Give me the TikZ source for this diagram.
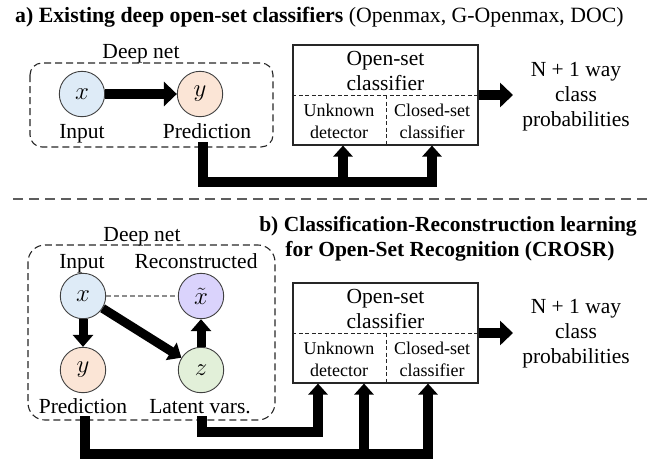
\documentclass[tikz,border=0pt]{standalone}
\usepackage{fontspec}
\setmainfont{Liberation Serif}
\usetikzlibrary{arrows.meta}
\definecolor{cin}{HTML}{DEEBF7}
\definecolor{cpred}{HTML}{FBE5D6}
\definecolor{crec}{HTML}{DAD3FC}
\definecolor{clat}{HTML}{E2F0D9}
\definecolor{cline}{HTML}{404040}
\begin{document}
\begin{tikzpicture}[x=1pt,y=-1pt,
  txt/.style={font=\fontsize{21.5}{25}\selectfont, inner sep=0pt, anchor=base},
  mtxt/.style={font=\fontsize{21.5}{25}\selectfont, inner sep=0pt, align=center},
  stxt/.style={font=\fontsize{18}{22}\selectfont, inner sep=0pt, align=center},
  var/.style={circle, draw=cline, line width=0.9pt, minimum size=45.4pt, inner sep=0pt, font=\fontsize{24}{24}\selectfont},
  net/.style={draw=black!85, dash pattern=on 7pt off 4pt, line width=1.1pt},
  osbox/.style={draw=black!85, line width=1.1pt, minimum width=185pt, minimum height=100pt, inner sep=0pt},
  inner dash/.style={draw=black!85, line width=0.9pt, dash pattern=on 4pt off 2.5pt},
  bar/.style={line width=10pt, line join=miter},
  bigtip/.style={line width=10pt, -{Triangle[width=24pt,length=13pt]}},
  midtip/.style={line width=9pt, -{Triangle[width=20pt,length=12pt]}},
  smalltip/.style={line width=10pt, line join=miter, -{Triangle[width=19pt,length=11pt]}},
  sep/.style={draw=cline!85, line width=1.8pt, dash pattern=on 10pt off 6pt},
  tie/.style={draw=black!45, line width=1.1pt, dash pattern=on 5pt off 3pt}
]
\useasboundingbox (0,0) rectangle (648,459);

% ---------- part a ----------
\node[txt, anchor=base west, font=\fontsize{21.8}{25}\selectfont] (titleA) at (15,22) {\textbf{a) Existing deep open-set classifiers} (Openmax, G-Openmax, DOC)};

\draw[net, rounded corners=12pt] (30,63) rectangle (273,147);
\node[txt] (deepA) at (141,58) {Deep net};
\node[var, fill=cin] (xa) at (82,94) {$x$};
\node[var, fill=cpred] (ya) at (200,94) {$y$};
\node[txt] (inA) at (82,138) {Input};
\node[txt] (predA) at (207,138) {Prediction};
\draw[bigtip] (xa) -- (ya);

\node[osbox] (osA) at (385.5,95) {};
\draw[inner dash] (osA.west |- 0,95) -- (osA.east |- 0,95);
\draw[inner dash] (386,95) -- (386,95 |- osA.south);
\node[mtxt] (osAt) at (385.5,71) {Open-set\\classifier};
\node[stxt] (unkA) at (339,121) {Unknown\\detector};
\node[stxt] (clsA) at (432,121) {Closed-set\\classifier};

\coordinate (outA) at (513,95);
\draw[bigtip] (osA.east |- 0,95) -- (outA);
\node[mtxt] (probA) at (576,97) {N + 1 way\\class\\probabilities};

\coordinate (sa) at (203,142);
\coordinate (ja1) at (343,182);
\coordinate (ja2) at (432,182);
\draw[smalltip] (sa) |- (ja2) -- (ja2 |- osA.south);
\draw[smalltip] (ja1) -- (ja1 |- osA.south);

% ---------- separator ----------
\coordinate (sepL) at (13,199);
\coordinate (sepR) at (648,199);
\draw[sep] (sepL) -- (sepR);

% ---------- part b ----------
\node[txt, font=\fontsize{21.5}{25}\selectfont\bfseries] (titleB1) at (448,231) {b) Classification-Reconstruction learning};
\node[txt, font=\fontsize{21.5}{25}\selectfont\bfseries] (titleB2) at (450,256) {for Open-Set Recognition (CROSR)};

\draw[net, rounded corners=17pt] (28,245) rectangle (275,420);
\node[txt] (deepB) at (142,241) {Deep net};
\node[txt] (inB) at (82,268) {Input};
\node[txt] (recB) at (196,268) {Reconstructed};
\node[var, fill=cin] (xb) at (83,296) {$x$};
\node[var, fill=crec] (xtb) at (201,296) {$\tilde{x}$};
\node[var, fill=cpred] (yb) at (83,370) {$y$};
\node[var, fill=clat] (zb) at (201,370) {$z$};
\node[txt] (predB) at (83,413) {Prediction};
\node[txt] (latB) at (200,413) {Latent vars.};
\draw[tie] (xb) -- (xtb);
\draw[midtip] (xb) -- (yb);
\draw[midtip] (xb) -- (zb);
\draw[midtip] (zb) -- (xtb);

\node[osbox] (osB) at (385.5,333) {};
\draw[inner dash] (osB.west |- 0,333) -- (osB.east |- 0,333);
\draw[inner dash] (386,333) -- (386,333 |- osB.south);
\node[mtxt] (osBt) at (385.5,309) {Open-set\\classifier};
\node[stxt] (unkB) at (339,359) {Unknown\\detector};
\node[stxt] (clsB) at (432,359) {Closed-set\\classifier};

\coordinate (outB) at (513,333);
\draw[bigtip] (osB.east |- 0,333) -- (outB);
\node[mtxt] (probB) at (576,334) {N + 1 way\\class\\probabilities};

\coordinate (sb1) at (202,416);
\coordinate (jb1) at (318,432);
\draw[smalltip] (sb1) |- (jb1) -- (jb1 |- osB.south);

\coordinate (sb2) at (85,416);
\coordinate (jb2) at (364,454);
\coordinate (jb3) at (428,454);
\draw[smalltip] (sb2) |- (jb3) -- (jb3 |- osB.south);
\draw[smalltip] (jb2) -- (jb2 |- osB.south);
\end{tikzpicture}
\end{document}
